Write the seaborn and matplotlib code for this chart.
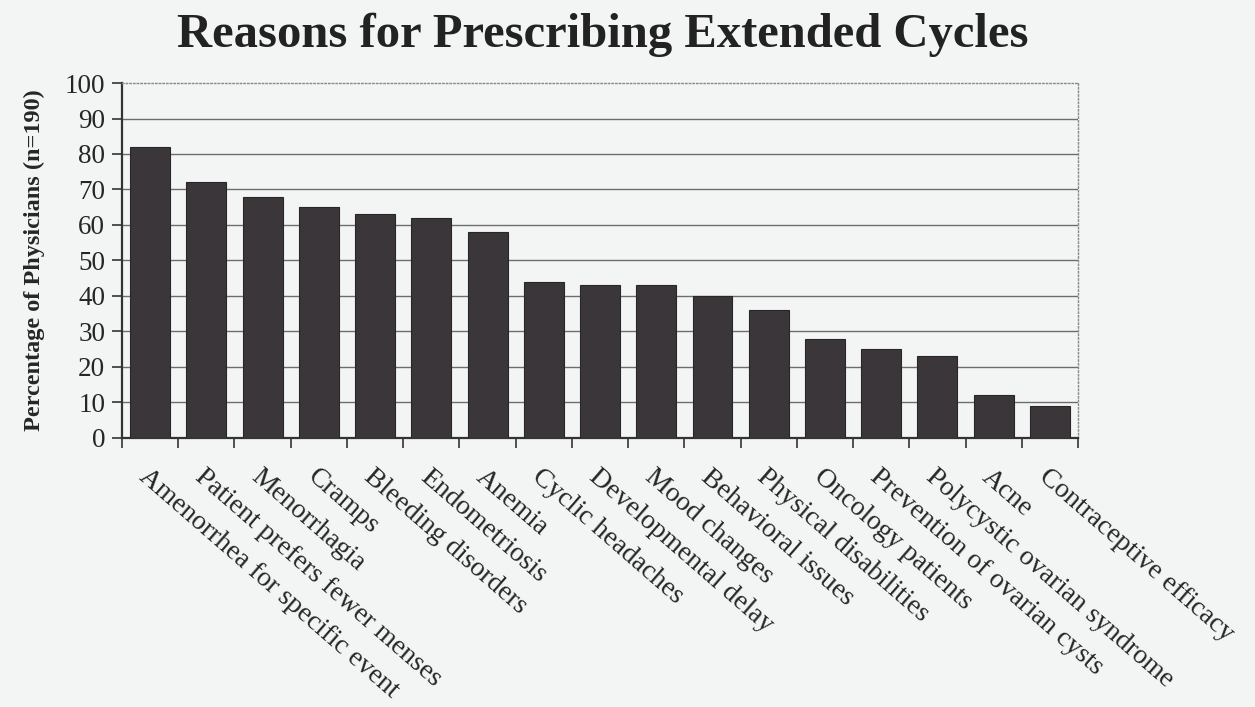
import numpy as np
import pandas as pd
import matplotlib
matplotlib.use("Agg")
import matplotlib.pyplot as plt
import matplotlib.transforms as mtransforms
import seaborn as sns

reasons = [
    "Amenorrhea for specific event", "Patient prefers fewer menses", "Menorrhagia",
    "Cramps", "Bleeding disorders", "Endometriosis", "Anemia", "Cyclic headaches",
    "Developmental delay", "Mood changes", "Behavioral issues", "Physical disabilities",
    "Oncology patients", "Prevention of ovarian cysts", "Polycystic ovarian syndrome",
    "Acne", "Contraceptive efficacy",
]
percent = [82, 72, 68, 65, 63, 62, 58, 44, 43, 43, 40, 36, 28, 25, 23, 12, 9]
yticks = list(range(0, 101, 10))

df = pd.DataFrame({"reason": reasons, "percent": percent})

sns.set_theme(style="white")
plt.rcParams["font.family"] = ["Liberation Serif", "DejaVu Serif"]

bg = "#f3f4f4"
fig = plt.figure(figsize=(12.55, 7.07), dpi=100, facecolor=bg)
ax = fig.add_axes([0.0972, 0.3805, 0.7618, 0.5021])
ax.set_facecolor(bg)

sns.barplot(data=df, x="reason", y="percent", color="#3b3639", width=0.71,
            saturation=1, edgecolor="#2a2628", linewidth=0.8, ax=ax, zorder=3)

ax.set_ylim(0, 100)
ax.set_xlim(-0.5, len(reasons) - 0.5)
ax.set_yticks(yticks)
ax.set_yticklabels([str(t) for t in yticks], fontsize=19.5)
for t in yticks[1:-1]:
    ax.axhline(t, color="#6d6d6d", lw=1.0, zorder=1)

# ticks sit between the categories
ax.set_xticks(np.arange(len(reasons)))
ax.set_xticklabels(reasons, rotation=-41, ha="left", va="top",
                   rotation_mode="anchor", fontsize=19.8)
shift = mtransforms.ScaledTranslation(10 / 72, 0, fig.dpi_scale_trans)
for lbl in ax.get_xticklabels():
    lbl.set_transform(lbl.get_transform() + shift)
ax.tick_params(axis="x", which="major", length=0, pad=19)
ax.set_xticks(np.arange(-0.5, len(reasons), 1), minor=True)
ax.tick_params(axis="x", which="minor", length=7, width=1.2, color="#333333",
               direction="out", bottom=True)
ax.tick_params(axis="y", length=7, width=1.2, color="#333333", direction="out",
               left=True, pad=5)

for side in ["left", "bottom"]:
    ax.spines[side].set_color("#333333")
    ax.spines[side].set_linewidth(1.6)
for side in ["top", "right"]:
    ax.spines[side].set_color("#888888")
    ax.spines[side].set_linestyle(":")
    ax.spines[side].set_linewidth(1.0)

ax.set_xlabel("")
ax.set_ylabel("Percentage of Physicians (n=190)", fontsize=17.5, fontweight="bold",
              labelpad=14)
fig.suptitle("Reasons for Prescribing Extended Cycles", fontsize=35,
             fontweight="bold", x=0.480, y=0.982, color="#222222")

fig.savefig("out.png", dpi=100, facecolor=bg)
